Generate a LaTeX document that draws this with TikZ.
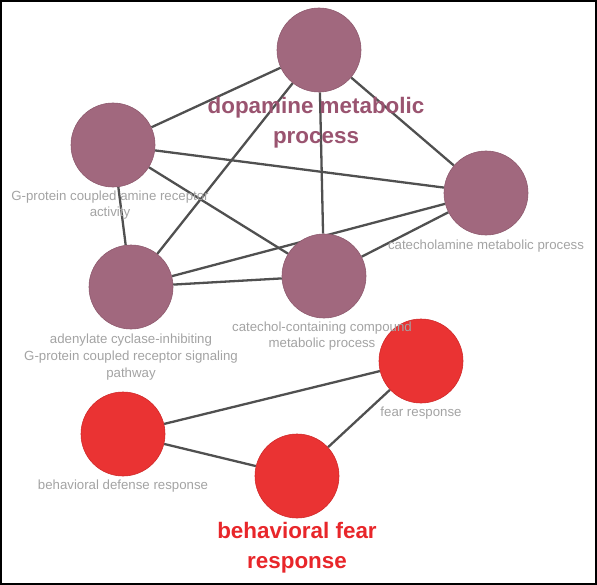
\documentclass[tikz,border=0pt]{standalone}
\usepackage{fontspec}
\setmainfont{Liberation Sans}
\usetikzlibrary{backgrounds}
\definecolor{mauve}{HTML}{A1687E}
\definecolor{mauveedge}{HTML}{8E5A6E}
\definecolor{mauvetext}{HTML}{9A5470}
\definecolor{redfill}{HTML}{EA3333}
\definecolor{rededge}{HTML}{D02A2A}
\definecolor{redtext}{HTML}{E8262A}
\definecolor{edgegray}{HTML}{505050}
\definecolor{labelgray}{HTML}{A3A3A3}
\tikzset{
  term/.style={circle, minimum size=84bp, inner sep=0pt, line width=0.6bp},
  mterm/.style={term, fill=mauve, draw=mauveedge},
  rterm/.style={term, fill=redfill, draw=rededge},
  link/.style={draw=edgegray, line width=2.3bp},
  small/.style={text=labelgray, align=center, inner sep=0pt, font=\fontsize{13.3}{16.8}\selectfont},
  big/.style={align=center, inner sep=0pt, font=\fontsize{22.5}{30}\selectfont\bfseries},
}
\begin{document}
\begin{tikzpicture}[x=1bp,y=-1bp]
\useasboundingbox (0,0) rectangle (597,585);
\draw[line width=2bp, black] (1,1) rectangle (596,584);
% nodes
\node[mterm] (D) at (319,50) {};
\node[mterm] (G) at (113,145) {};
\node[mterm] (C) at (486,193) {};
\node[mterm] (A) at (131,287) {};
\node[mterm] (K) at (324,276) {};
\node[rterm] (F) at (421,361) {};
\node[rterm] (B) at (123,434) {};
\node[rterm] (BF) at (297,476) {};
% edges
\begin{scope}[on background layer]
\draw[link] (D) -- (G);
\draw[link] (D) -- (A);
\draw[link] (D) -- (K);
\draw[link] (D) -- (C);
\draw[link] (G) -- (C);
\draw[link] (G) -- (K);
\draw[link] (G) -- (A);
\draw[link] (A) -- (C);
\draw[link] (A) -- (K);
\draw[link] (K) -- (C);
\draw[link] (B) -- (F);
\draw[link] (B) -- (BF);
\draw[link] (BF) -- (F);
\end{scope}
% labels
\node[big, text=mauvetext] (Dl) at (316,123) {dopamine metabolic\\process};
\node[small] (Gl) at (110,205) {G-protein coupled amine receptor\\activity};
\node[small] (Cl) at (486,246) {catecholamine metabolic process};
\node[small] (Al) at (131,357) {adenylate cyclase-inhibiting\\G-protein coupled receptor signaling\\pathway};
\node[small] (Kl) at (322,336) {catechol-containing compound\\metabolic process};
\node[small] (Fl) at (421,413) {fear response};
\node[small] (Bl) at (123,486) {behavioral defense response};
\node[big, text=redtext] (BFl) at (297,548) {behavioral fear\\response};
\end{tikzpicture}
\end{document}
